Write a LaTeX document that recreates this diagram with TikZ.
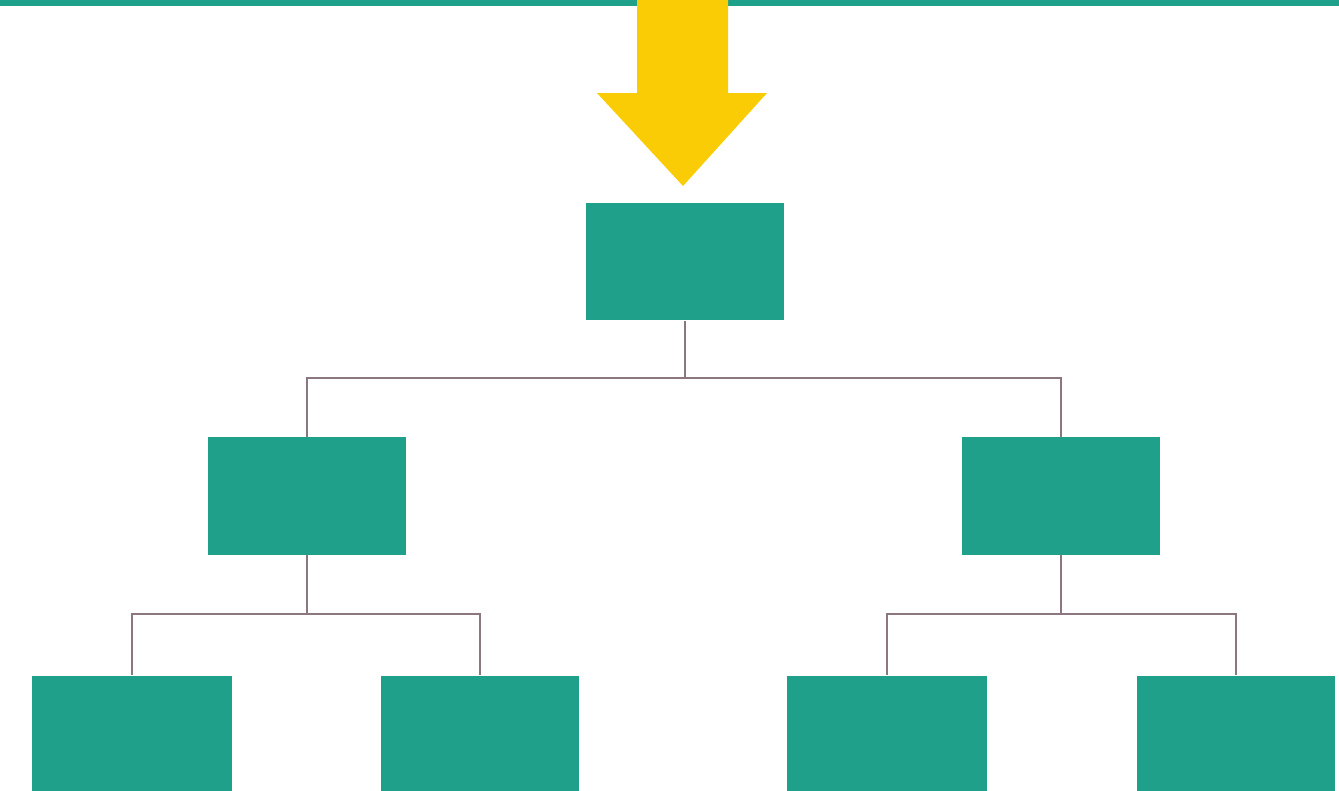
\documentclass[tikz,border=0pt]{standalone}
\usepackage{tikz}
\usetikzlibrary{positioning,calc}
\definecolor{orgteal}{RGB}{31,160,138}
\definecolor{orgyellow}{RGB}{250,204,6}
\definecolor{orgline}{RGB}{140,118,128}
\tikzset{
  orgbox/.style={rectangle,fill=orgteal,inner sep=0pt,minimum width=1.97cm,minimum height=1.17cm},
  link/.style={line width=0.65pt,orgline},
  bigarrow/.style={fill=orgyellow},
}
\begin{document}
\begin{tikzpicture}[x=0.01cm,y=-0.01cm]
  \useasboundingbox (0,0) rectangle (1339,790);
  \clip (0,0) rectangle (1339,790);
  % top band
  \fill[orgteal] (0,0) rectangle (1339,6);
  % yellow arrow
  \fill[bigarrow] (637,0) -- (728,0) -- (728,93) -- (767,93) -- (683,186)
    -- (597,93) -- (637,93) -- cycle;
  % boxes
  \node[orgbox] (root) at (685,261.5) {};
  \node[orgbox] (midL) at (307,496) {};
  \node[orgbox] (midR) at (1061,496) {};
  \node[orgbox,minimum width=2cm] (leafA) at (132,734.5) {};
  \node[orgbox] (leafB) at (480,734.5) {};
  \node[orgbox,minimum width=2cm] (leafC) at (887,734.5) {};
  \node[orgbox] (leafD) at (1236,734.5) {};
  % junctions
  \coordinate (jRoot) at (685,378);
  \coordinate (jL) at (307,614);
  \coordinate (jR) at (1061,614);
  % connectors
  \draw[link] (root.south) -- (jRoot) -| (midL.north);
  \draw[link] (jRoot) -| (midR.north);
  \draw[link] (midL.south) -- (jL) -| (leafA.north);
  \draw[link] (jL) -| (leafB.north);
  \draw[link] (midR.south) -- (jR) -| (leafC.north);
  \draw[link] (jR) -| (leafD.north);
\end{tikzpicture}
\end{document}
